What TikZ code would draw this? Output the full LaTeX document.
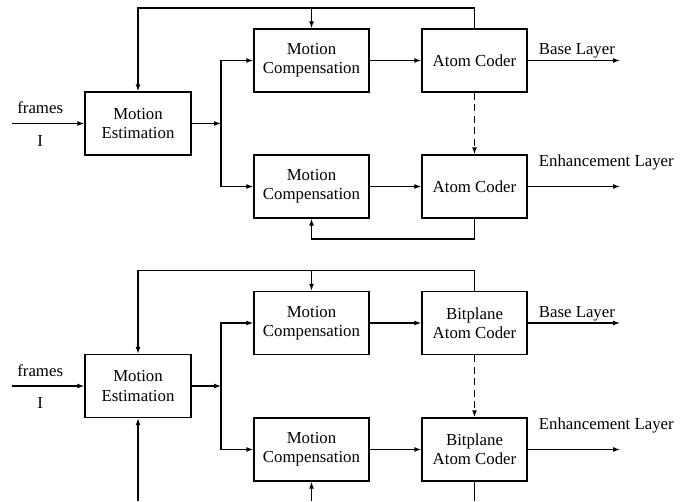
\documentclass[tikz,border=0pt]{standalone}
\usepackage{fontspec}
\setmainfont{Liberation Serif}
\usetikzlibrary{arrows.meta, positioning}
\tikzset{%
  txt/.style={font=\fontsize{16.8}{19.3}\selectfont, inner sep=0pt},
  block/.style={txt, draw, line width=1.4pt, minimum height=63pt, align=center},
  est/.style={block, minimum width=106pt},
  comp/.style={block, minimum width=115pt},
  coder/.style={block, minimum width=105pt},
  edge/.style={line width=1.3pt},
  move/.style={edge, -{Latex[length=7pt,width=5pt]}},
  link/.style={move, dash pattern=on 7pt off 4.5pt},
  lbl/.style={txt, anchor=base west}
}
\begin{document}
\begin{tikzpicture}[x=1pt, y=1pt]
  \useasboundingbox (0,0) rectangle (690,501);

  % upper scheme
  \node[est] (me1) at (138,377.5) {Motion\\Estimation};
  \node[comp] (mc1) at (311.5,440.5) {Motion\\Compensation};
  \node[comp] (mc2) at (311.5,314.5) {Motion\\Compensation};
  \node[coder] (ac1) at (474.5,440.5) {Atom Coder};
  \node[coder] (ac2) at (474.5,314.5) {Atom Coder};

  \coordinate (in1) at (12,377.5);
  \coordinate (j1) at (221,377.5);
  \coordinate (fb1) at (0,493);
  \coordinate (fb2) at (0,262);
  \coordinate (out1) at (620,440.5);
  \coordinate (out2) at (620,314.5);

  \draw[move] (in1) to node[txt, pos=0.39, above=9pt] {frames} node[txt, pos=0.39, below=11pt] {I} (me1.west);
  \draw[move] (me1.east) -- (j1);
  \draw[move] (j1) |- (mc1.west);
  \draw[move] (j1) |- (mc2.west);
  \draw[move] (mc1) -- (ac1);
  \draw[move] (mc2) -- (ac2);
  \draw[move] (ac1.east) -- (out1);
  \draw[move] (ac2.east) -- (out2);
  \draw[link] (ac1) -- (ac2);
  \draw[move] (ac1.north) -- (ac1.north |- fb1) -| (me1.north);
  \draw[move] (mc1.north |- fb1) -- (mc1.north);
  \draw[move] (ac2.south) -- (ac2.south |- fb2) -| (mc2.south);

  \node[lbl] (bl1) at ([shift={(11,6)}]ac1.east) {Base Layer};
  \node[lbl] (el1) at ([shift={(11,20)}]ac2.east) {Enhancement Layer};

  % lower scheme
  \node[est] (me3) at (138,115) {Motion\\Estimation};
  \node[comp] (mc3) at (311.5,178) {Motion\\Compensation};
  \node[comp] (mc4) at (311.5,51.5) {Motion\\Compensation};
  \node[coder] (ac3) at (474.5,178) {Bitplane\\Atom Coder};
  \node[coder] (ac4) at (474.5,51.5) {Bitplane\\Atom Coder};

  \coordinate (in3) at (12,115);
  \coordinate (j3) at (221,115);
  \coordinate (fb3) at (0,230.5);
  \coordinate (bot) at (0,0);
  \coordinate (out3) at (620,178);
  \coordinate (out4) at (620,51.5);

  \draw[move] (in3) to node[txt, pos=0.39, above=9pt] {frames} node[txt, pos=0.39, below=11pt] {I} (me3.west);
  \draw[move] (me3.east) -- (j3);
  \draw[move] (j3) |- (mc3.west);
  \draw[move] (j3) |- (mc4.west);
  \draw[move] (mc3) -- (ac3);
  \draw[move] (mc4) -- (ac4);
  \draw[move] (ac3.east) -- (out3);
  \draw[move] (ac4.east) -- (out4);
  \draw[link] (ac3) -- (ac4);
  \draw[move] (ac3.north) -- (ac3.north |- fb3) -| (me3.north);
  \draw[move] (mc3.north |- fb3) -- (mc3.north);
  \draw[move] (me3.south |- bot) -- (me3.south);
  \draw[move] (mc4.south |- bot) -- (mc4.south);
  \draw[edge] (ac4.south) -- (ac4.south |- bot);

  \node[lbl] (bl3) at ([shift={(11,6)}]ac3.east) {Base Layer};
  \node[lbl] (el3) at ([shift={(11,20)}]ac4.east) {Enhancement Layer};
\end{tikzpicture}
\end{document}
